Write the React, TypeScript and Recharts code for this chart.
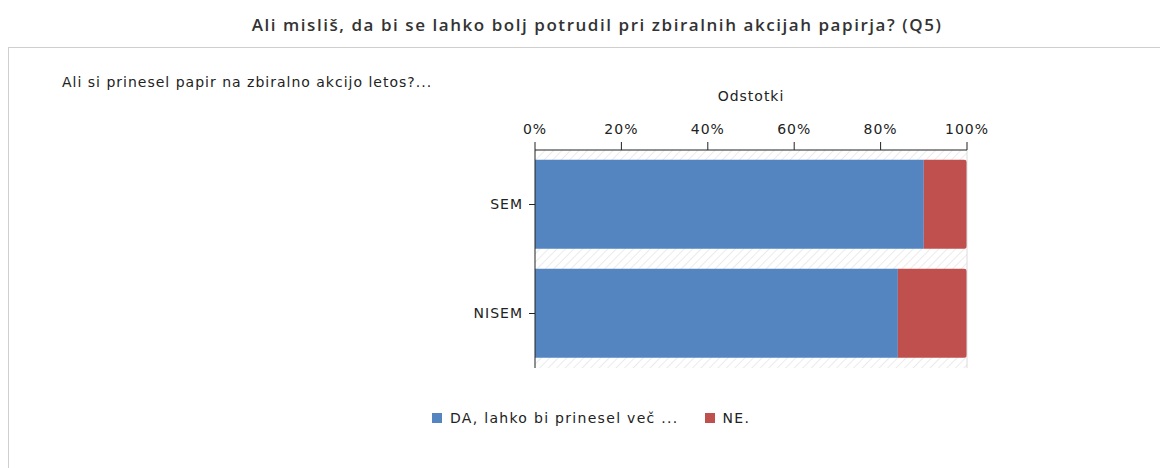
import { Bar, BarChart, CartesianGrid, Legend, ReferenceLine, XAxis, YAxis } from 'recharts';

const categories = ['SEM', 'NISEM'];
const daValues = [90, 84];
const neValues = [10, 16];
const xTicks = [0, 20, 40, 60, 80, 100];

const data = categories.map((c, i) => ({ name: c, da: daValues[i], ne: neValues[i] }));

const FONT = '"DejaVu Sans", Verdana, sans-serif';
const SPACING = 1;

function renderLegend(props: any) {
  const { payload = [] } = props;
  return (
    <div style={{ display: 'flex', alignItems: 'center', fontFamily: FONT, fontSize: 14, letterSpacing: 1.3, color: '#222' }}>
      {payload.map((p: any, i: number) => (
        <div key={i} style={{ display: 'flex', alignItems: 'center', marginRight: 26 }}>
          <span style={{ display: 'inline-block', width: 10, height: 10, background: p.color, marginRight: 8 }} />
          <span>{p.value}</span>
        </div>
      ))}
    </div>
  );
}

export default function App() {
  return (
    <div style={{ position: 'relative', width: 1160, height: 460, fontFamily: FONT }}>
      <div
        style={{
          position: 'absolute',
          top: 5,
          left: 0,
          width: 1178,
          textAlign: 'center',
          fontFamily: '"Open Sans", sans-serif',
          fontWeight: 600,
          fontSize: 17,
          letterSpacing: 1.55,
          color: '#333',
        }}
      >
        Ali misliš, da bi se lahko bolj potrudil pri zbiralnih akcijah papirja? (Q5)
      </div>
      <div
        style={{
          position: 'absolute',
          top: 39,
          left: 0,
          width: 1200,
          height: 460,
          border: '1px solid #cfcfcf',
          boxSizing: 'border-box',
        }}
      />
      <div style={{ position: 'absolute', top: 66, left: 54, fontSize: 14, letterSpacing: SPACING, color: '#222' }}>
        Ali si prinesel papir na zbiralno akcijo letos?...
      </div>
      <div style={{ position: 'absolute', top: 0, left: 0 }}>
        <BarChart
          width={1160}
          height={460}
          data={data}
          layout="vertical"
          margin={{ top: 112, right: 201, left: 467, bottom: 100 }}
          barCategoryGap="9%"
        >
          <defs>
            <pattern id="hatch" width="6" height="6" patternUnits="userSpaceOnUse" patternTransform="rotate(45)">
              <rect width="6" height="6" fill="#ffffff" />
              <line x1="0" y1="0" x2="0" y2="6" stroke="#ebebeb" strokeWidth="2" />
            </pattern>
          </defs>
          <CartesianGrid fill="url(#hatch)" horizontal={false} vertical={false} />
          <XAxis
            type="number"
            orientation="top"
            domain={[0, 100]}
            ticks={xTicks}
            tickFormatter={(v) => `${v}%`}
            height={30}
            tickSize={8}
            tickMargin={8}
            axisLine={{ stroke: '#222' }}
            tickLine={{ stroke: '#222' }}
            tick={{ fill: '#222', fontSize: 14, fontFamily: FONT, letterSpacing: SPACING }}
            label={{ value: 'Odstotki', position: 'top', offset: 19, fill: '#222', fontSize: 14, fontFamily: FONT, letterSpacing: SPACING }}
          />
          <YAxis
            type="category"
            dataKey="name"
            width={60}
            tickMargin={6}
            axisLine={{ stroke: '#222' }}
            tickLine={{ stroke: '#222' }}
            tick={{ fill: '#222', fontSize: 14, fontFamily: FONT, letterSpacing: SPACING }}
          />
          <ReferenceLine x={100} stroke="#dcdcdc" />
          <Legend
            layout="horizontal"
            align="center"
            verticalAlign="middle"
            content={renderLegend}
            wrapperStyle={{ left: 424, top: 402, width: 500 }}
          />
          <Bar dataKey="da" name="DA, lahko bi prinesel več ..." stackId="a" fill="#5585c1" isAnimationActive={false} />
          <Bar dataKey="ne" name="NE." stackId="a" fill="#c0504d" radius={[0, 3, 3, 0]} isAnimationActive={false} />
        </BarChart>
      </div>
    </div>
  );
}
